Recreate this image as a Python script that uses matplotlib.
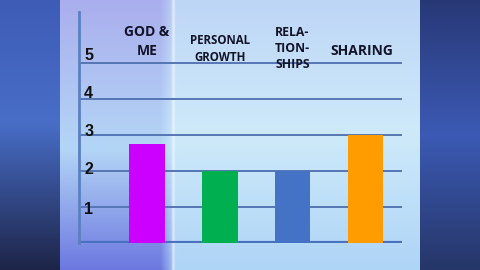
import numpy as np
import matplotlib
matplotlib.use("Agg")
import matplotlib.pyplot as plt

categories = ["GOD &\nME", "PERSONAL\nGROWTH", "RELA-\nTION-\nSHIPS", "SHARING"]
values = [2.75, 2.0, 2.0, 3.0]
colors = ["#cc00ff", "#00b050", "#4472c4", "#ff9d00"]
yticks = [1, 2, 3, 4, 5]

W, H = 480, 270
fig = plt.figure(figsize=(4.8, 2.7), dpi=100)

# ---- background (photo of a slide) ----
bg = fig.add_axes([0, 0, 1, 1])
bg.set_axis_off()
t = np.linspace(0, 1, H)[:, None]

def vgrad(a, m, b, split=0.5):
    a, m, b = (np.array(c) / 255.0 for c in (a, m, b))
    up = a + (m - a) * np.clip(t / split, 0, 1)
    dn = m + (b - m) * np.clip((t - split) / (1 - split), 0, 1)
    return np.where(t < split, up, dn)

img = np.zeros((H, W, 3))
PL = vgrad((170, 174, 238), (180, 214, 246), (108, 120, 224), 0.55)
PR = vgrad((190, 214, 246), (206, 234, 250), (174, 212, 246), 0.5)
xs_px = np.arange(W)
wmix = np.clip((xs_px - 160) / 16.0, 0, 1)[None, :, None]
img[:] = PL[:, None, :] * (1 - wmix) + PR[:, None, :] * wmix
# light streak
streak = np.exp(-((xs_px - 173) / 1.6) ** 2)[None, :, None]
img = img * (1 - 0.6 * streak) + 0.6 * streak * np.array([0.97, 0.98, 1.0])
img[:, :60, :] = vgrad((62, 92, 182), (72, 110, 200), (30, 36, 72), 0.45)[:, None, :]
img[:, 420:, :] = vgrad((40, 56, 118), (60, 90, 180), (38, 54, 104), 0.5)[:, None, :]
img = np.clip(img, 0, 1)
bg.imshow(img, extent=[0, 1, 0, 1], aspect="auto", origin="upper")
bg.set_xlim(0, 1); bg.set_ylim(0, 1)

# ---- chart axes: x from 79 to 402 px, baseline 243 px, 36 px per unit ----
x0, x1 = 79, 402
ybase = 243
ppu = 36.0
ytop = 12
ax = fig.add_axes([x0 / W, (H - ybase) / H, (x1 - x0) / W, (ybase - ytop) / H])
ax.patch.set_alpha(0)
ax.set_xlim(-0.93, 3.5)
ax.set_ylim(0, (ybase - ytop) / ppu)
for s in ["top", "right", "bottom"]:
    ax.spines[s].set_visible(False)
ax.spines["left"].set_color("#5a80c0")
ax.spines["left"].set_linewidth(2)
ax.set_xticks([]); ax.set_yticks([])
for v in yticks:
    ax.axhline(v, color="#5676b4", lw=1.4, zorder=1)
ax.axhline(0, color="#4a70c0", lw=3, zorder=1)

xs = np.arange(len(categories))
ax.bar(xs, values, width=0.49, color=colors, zorder=2)

# tick labels sit slightly above their lines (perspective of the photo)
tick_off_px = [-3, 1, 3, 5, 8]
for v, off in zip(yticks, tick_off_px):
    ax.text(-0.86, v + off / ppu, str(v), fontsize=11.5, fontweight="bold",
            family="Liberation Sans", color="#111111", ha="left", va="center")

label_y = [5.15, 4.96, 4.79, 5.15]
sizes = [10, 8.3, 8.8, 10]
has = ["center", "center", "left", "center"]
offs = [0, 0, -0.24, -0.05]
lsp = [1.45, 1.45, 1.3, 1.0]
for i, lab in enumerate(categories):
    ax.text(xs[i] + offs[i], label_y[i], lab, fontsize=sizes[i], fontweight="bold",
            family="Open Sans", color="#141428", ha=has[i], va="bottom",
            linespacing=lsp[i], multialignment="center" if has[i] == "center" else "left")

fig.savefig("out.png", dpi=100)
